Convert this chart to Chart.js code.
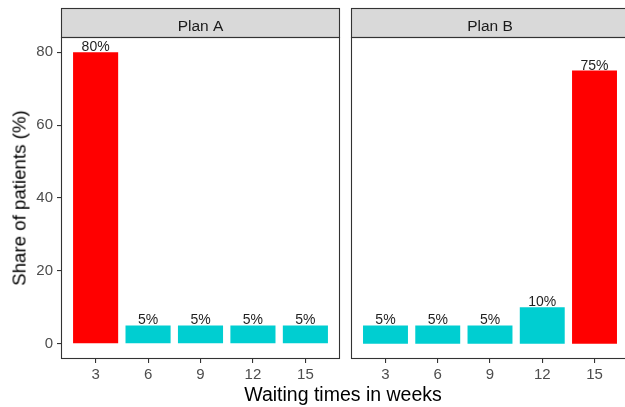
<!DOCTYPE html>
<html>
<head>
<meta charset="utf-8">
<script src="https://cdn.jsdelivr.net/npm/chart.js@4"></script>
<style>
  html, body {
    margin: 0;
    padding: 0;
    background: #fff;
    width: 625px;
    height: 407px;
    overflow: hidden;
    position: relative;
    font-family: "Liberation Sans", Arial, sans-serif;
  }
  canvas {
    position: absolute;
    top: 0;
  }
  #chartA { left: 0; }
  #chartB { left: 345px; }
  .title {
    position: absolute;
    line-height: 19px;
    color: #000;
    white-space: nowrap;
  }
  #xTitle {
    font-size: 19.5px;
    left: 343px;
    top: 385px;
    transform: translateX(-50%);
  }
  #yTitle {
    font-size: 18.7px;
    left: 19px;
    top: 198px;
    transform: translate(-50%, -50%) rotate(-90deg);
  }
</style>
</head>
<body>
<canvas id="chartA" width="345" height="407"></canvas>
<canvas id="chartB" width="290" height="407"></canvas>
<div class="title" id="xTitle">Waiting times in weeks</div>
<div class="title" id="yTitle">Share of patients (%)</div>
<script>
const categories = ["3", "6", "9", "12", "15"];
const planA = [80, 5, 5, 5, 5];
const planB = [5, 5, 5, 10, 75];
const yTicks = [0, 20, 40, 60, 80];
const panels = ["Plan A", "Plan B"];

const RED = "#FF0000";
const CYAN = "#00CED1";
const STRIP_H = 29;
const FONT = "'Liberation Sans', Arial, sans-serif";

function barColors(values) {
  const top = Math.max(...values);
  return values.map((v) => (v === top ? RED : CYAN));
}

const panelPlugin = {
  id: "panel",
  afterDatasetsDraw(chart, args, opts) {
    const { ctx, chartArea } = chart;
    const { left, top, right, bottom } = chartArea;

    // value labels above bars
    const meta = chart.getDatasetMeta(0);
    const values = chart.data.datasets[0].data;
    ctx.save();
    ctx.font = "14px " + FONT;
    ctx.fillStyle = "#1F1F1F";
    ctx.textAlign = "center";
    ctx.textBaseline = "alphabetic";
    meta.data.forEach((bar, i) => {
      ctx.fillText(values[i].y + "%", bar.x, bar.y - 1);
    });
    ctx.restore();

    // strip + border
    ctx.save();
    ctx.fillStyle = "#D9D9D9";
    ctx.fillRect(left, top - STRIP_H, right - left, STRIP_H);
    ctx.strokeStyle = "#333333";
    ctx.lineWidth = 1.1;
    ctx.strokeRect(left + 0.5, top - STRIP_H + 0.5, right - left - 1, STRIP_H);
    ctx.strokeRect(left + 0.5, top + 0.5, right - left - 1, bottom - top - 1);
    ctx.font = "15.5px " + FONT;
    ctx.fillStyle = "#1A1A1A";
    ctx.textAlign = "center";
    ctx.textBaseline = "alphabetic";
    ctx.fillText(opts.label, (left + right) / 2, top - 6.3);
    ctx.restore();
  },
};

function makeChart(id, values, label, showY, padLeft, padRight) {
  const points = values.map((v, i) => ({ x: i, y: v }));
  return new Chart(document.getElementById(id), {
    type: "bar",
    data: {
      datasets: [{
        data: points,
        backgroundColor: barColors(values),
        borderWidth: 0,
        barPercentage: 0.86,
        categoryPercentage: 1,
      }],
    },
    plugins: [panelPlugin],
    options: {
      responsive: false,
      animation: false,
      layout: {
        padding: { top: 37, left: padLeft, right: padRight, bottom: 0 },
      },
      plugins: {
        legend: { display: false },
        tooltip: { enabled: false },
        panel: { label },
      },
      scales: {
        x: {
          type: "linear",
          offset: false,
          min: -0.66,
          max: 4.66,
          afterBuildTicks(scale) {
            scale.ticks = categories.map((c, i) => ({ value: i }));
          },
          afterFit(scale) {
            scale.height = 48;
          },
          border: { display: false },
          grid: {
            offset: false,
            drawOnChartArea: false,
            color: "#333333",
            tickLength: 4,
            lineWidth: 1.1,
          },
          ticks: {
            color: "#4D4D4D",
            padding: 3,
            maxRotation: 0,
            autoSkip: false,
            font: { size: 15, family: FONT },
            callback(value) {
              return categories[value];
            },
          },
        },
        y: {
          display: showY,
          min: -4.2,
          max: 84.2,
          afterBuildTicks(scale) {
            scale.ticks = yTicks.map((v) => ({ value: v }));
          },
          afterFit(scale) {
            scale.width = showY ? 61 : 0;
          },
          border: { display: false },
          grid: {
            drawOnChartArea: false,
            color: "#333333",
            tickLength: 4,
            lineWidth: 1.1,
          },
          ticks: {
            color: "#4D4D4D",
            padding: 4,
            font: { size: 15, family: FONT },
          },
        },
      },
    },
  });
}

makeChart("chartA", planA, panels[0], true, 0, 5);
makeChart("chartB", planB, panels[1], false, 6, 6);
</script>
</body>
</html>
